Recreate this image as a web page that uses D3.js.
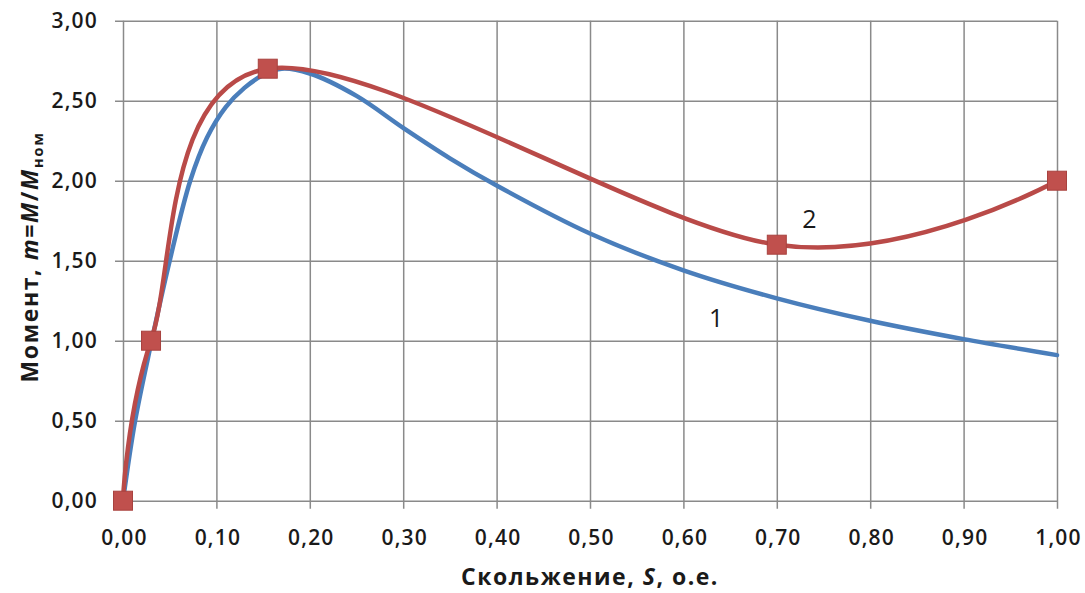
<!DOCTYPE html>
<html>
<head>
<meta charset="utf-8">
<script src="https://cdn.jsdelivr.net/npm/d3@7"></script>
<style>
  html, body { margin: 0; padding: 0; background: #fff; }
  svg { display: block; }
  text { font-family: "Open Sans", "Liberation Sans", sans-serif; fill: #1a1a1a; }
</style>
</head>
<body>
<svg id="chart" width="1085" height="593"></svg>
<script>
// Slip (s, p.u.) and torque ratio m = M/Mnom
const slipNatural   = [0, 0.013, 0.03, 0.05, 0.072, 0.09, 0.11, 0.13, 0.15, 0.17, 0.2, 0.25, 0.3, 0.35, 0.4, 0.5, 0.6, 0.7, 0.8, 0.9, 1.0];
const torqueNatural = [0, 0.5, 0.98, 1.5, 2.0, 2.27, 2.46, 2.58, 2.66, 2.70, 2.67, 2.53, 2.33, 2.14, 1.97, 1.67, 1.44, 1.265, 1.125, 1.01, 0.91];

const slipDeepBar   = [0, 0.03, 0.155, 0.7, 1.0];
const torqueDeepBar = [0, 1.0, 2.7, 1.6, 2.0];

const xTicks = [0, 0.1, 0.2, 0.3, 0.4, 0.5, 0.6, 0.7, 0.8, 0.9, 1.0];
const yTicks = [0, 0.5, 1.0, 1.5, 2.0, 2.5, 3.0];

const curveLabels = [
  { text: "1", s: 0.635, m: 1.15 },
  { text: "2", s: 0.735, m: 1.77 }
];

const svg = d3.select("#chart");
const plot = { left: 123, right: 1057, top: 20.7, bottom: 500.7 };

const x = d3.scaleLinear().domain([0, 1]).range([plot.left, plot.right]);
const y = d3.scaleLinear().domain([0, 3]).range([plot.bottom, plot.top]);

const fmt = v => d3.format(".2f")(v).replace(".", ",");
const gridColor = "#8a8a8a";

// Gridlines with outside tick marks
const xAxis = d3.axisBottom(x).tickValues(xTicks).tickFormat(fmt)
  .tickSizeInner(-(plot.bottom - plot.top)).tickSizeOuter(0);
const yAxis = d3.axisLeft(y).tickValues(yTicks).tickFormat(fmt)
  .tickSizeInner(-(plot.right - plot.left)).tickSizeOuter(0);

const gx = svg.append("g").attr("transform", `translate(0,${plot.bottom})`).call(xAxis);
const gy = svg.append("g").attr("transform", `translate(${plot.left},0)`).call(yAxis);

[gx, gy].forEach(g => {
  g.select(".domain").remove();
  g.selectAll(".tick line").attr("stroke", gridColor).attr("stroke-width", 1.5);
  g.selectAll(".tick text")
    .attr("font-size", 21).attr("font-weight", 600)
    .style("letter-spacing", "1.2px").attr("fill", "#1a1a1a");
});
// gridlines run a little past the axes as tick marks
gx.selectAll(".tick line").attr("y1", 8);
gy.selectAll(".tick line").attr("x1", -8);
gx.selectAll(".tick text").attr("dy", "0.71em").attr("y", 29).attr("dx", 1);
gy.selectAll(".tick text").attr("x", -25);

const smooth = d3.line()
  .x(d => x(d[0])).y(d => y(d[1]))
  .curve(d3.curveCardinal.tension(0));
const smoothDense = d3.line()
  .x(d => x(d[0])).y(d => y(d[1]))
  .curve(d3.curveCatmullRom.alpha(0.5));

// Curve 1
svg.append("path")
  .datum(slipNatural.map((s, i) => [s, torqueNatural[i]]))
  .attr("d", smoothDense)
  .attr("fill", "none").attr("stroke", "#4a7ebb").attr("stroke-width", 4.5)
  .attr("stroke-linejoin", "round").attr("stroke-linecap", "round");

// Curve 2
const deepBar = slipDeepBar.map((s, i) => [s, torqueDeepBar[i]]);
svg.append("path")
  .datum(deepBar)
  .attr("d", smooth)
  .attr("fill", "none").attr("stroke", "#b94a48").attr("stroke-width", 4.5)
  .attr("stroke-linejoin", "round").attr("stroke-linecap", "round");

const mk = 19;
svg.append("g").selectAll("rect").data(deepBar).join("rect")
  .attr("x", d => x(d[0]) - mk / 2).attr("y", d => y(d[1]) - mk / 2)
  .attr("width", mk).attr("height", mk)
  .attr("fill", "#c0504d").attr("stroke", "#a8423f").attr("stroke-width", 1);

// Curve numbers
svg.append("g").selectAll("text").data(curveLabels).join("text")
  .attr("x", d => x(d.s)).attr("y", d => y(d.m))
  .attr("text-anchor", "middle").attr("dominant-baseline", "central")
  .attr("font-size", 25).attr("fill", "#111")
  .text(d => d.text);

// Axis titles
svg.append("text")
  .attr("x", (plot.left + plot.right) / 2).attr("y", 585)
  .attr("text-anchor", "middle").attr("font-size", 23).attr("font-weight", 700)
  .style("letter-spacing", "1.5px")
  .selectAll("tspan")
  .data([["Скольжение, ", "normal"], ["S", "italic"], [", о.е.", "normal"]])
  .join("tspan").attr("font-style", d => d[1]).text(d => d[0]);

const yTitle = svg.append("text")
  .attr("transform", "translate(38,257) rotate(-90)")
  .attr("text-anchor", "middle").attr("font-size", 23).attr("font-weight", 700)
  .style("letter-spacing", "1.6px");
yTitle.append("tspan").text("Момент, ");
yTitle.append("tspan").attr("font-style", "italic").text("m");
yTitle.append("tspan").text("=");
yTitle.append("tspan").attr("font-style", "italic").text("M");
yTitle.append("tspan").text("/");
yTitle.append("tspan").attr("font-style", "italic").text("M");
yTitle.append("tspan").attr("font-size", 15).attr("dy", 5).text("ном");
</script>
</body>
</html>
